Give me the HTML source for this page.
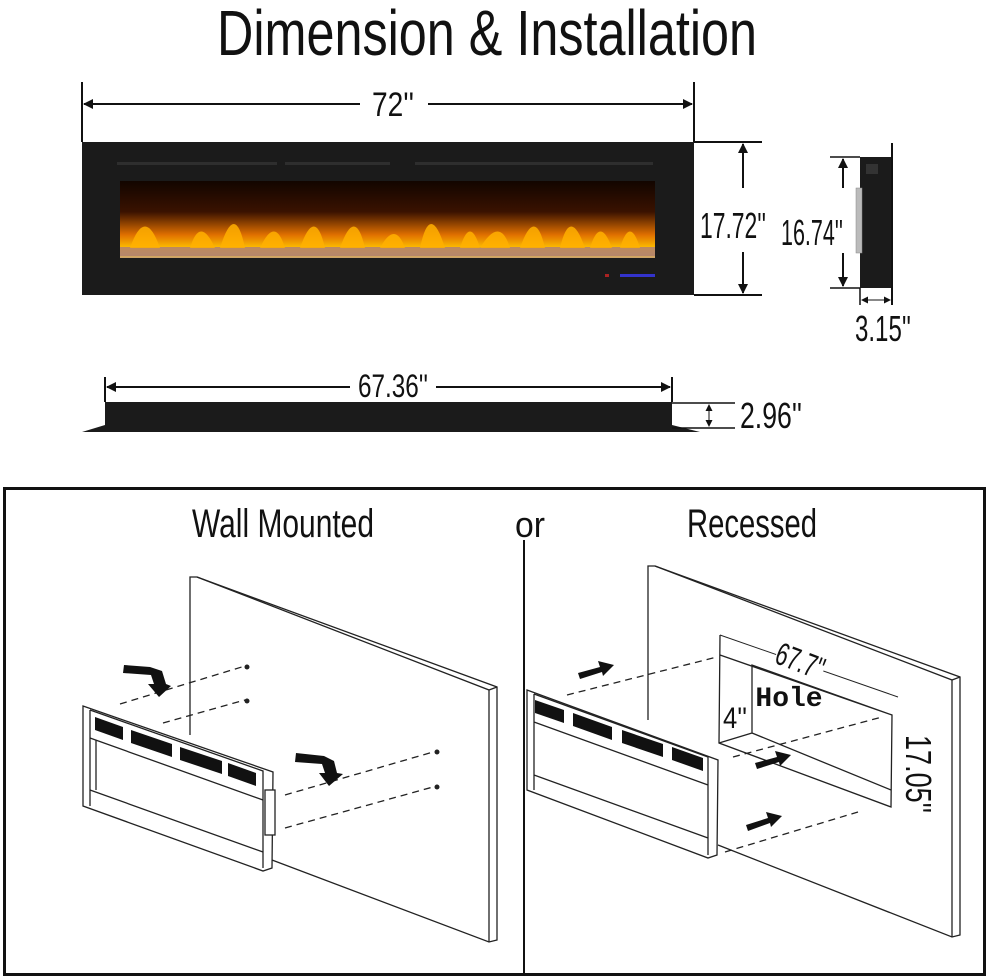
<!DOCTYPE html>
<html><head><meta charset="utf-8"><style>
html,body{margin:0;padding:0;background:#fff;}
svg{display:block;}
text{font-family:"Liberation Sans Narrow","Liberation Sans",sans-serif;fill:#111;}
</style></head><body>
<svg width="989" height="979" viewBox="0 0 989 979" xmlns="http://www.w3.org/2000/svg">
<defs>
<marker id="ah" markerWidth="10" markerHeight="10" refX="9" refY="5" orient="auto" markerUnits="userSpaceOnUse"><path d="M0,0 L10,5 L0,10 z" fill="#111"/></marker>
<marker id="as" markerWidth="7" markerHeight="7" refX="6" refY="3.5" orient="auto" markerUnits="userSpaceOnUse"><path d="M0,0 L7,3.5 L0,7 z" fill="#111"/></marker>
<linearGradient id="fl" x1="0" y1="0" x2="0" y2="1">
<stop offset="0" stop-color="#120500"/><stop offset="0.4" stop-color="#3a1200"/><stop offset="0.7" stop-color="#e07000"/><stop offset="0.88" stop-color="#ffc400"/><stop offset="1" stop-color="#c9a070"/></linearGradient>
</defs>
<text x="487" y="55" font-size="64" text-anchor="middle" textLength="540" lengthAdjust="spacingAndGlyphs">Dimension &amp; Installation</text>

<!-- top front view -->
<line x1="82" y1="82" x2="82" y2="142" stroke="#111" stroke-width="2"/>
<line x1="694" y1="82" x2="694" y2="142" stroke="#111" stroke-width="2"/>
<line x1="360" y1="104" x2="84" y2="104" stroke="#111" stroke-width="2" marker-end="url(#ah)"/>
<line x1="428" y1="104" x2="692" y2="104" stroke="#111" stroke-width="2" marker-end="url(#ah)"/>
<text x="393" y="116" font-size="34" text-anchor="middle" textLength="42" lengthAdjust="spacingAndGlyphs">72''</text>
<rect x="82" y="142" width="612" height="153" fill="#1b1b1b"/>
<rect x="120" y="181" width="535" height="77" fill="url(#fl)"/>
<rect x="120" y="247" width="535" height="9" fill="#b08070" opacity="0.85"/>
<path d="M130,248 Q145,205 160,248 M190,248 Q200,215 215,248 M220,248 Q235,200 245,248 M260,248 Q275,215 285,248 M300,248 Q315,205 325,248 M340,248 Q355,205 365,248 M380,248 Q395,220 405,248 M420,248 Q430,200 445,248 M460,248 Q470,215 480,248 M480,248 Q500,215 510,248 M520,248 Q535,205 545,248 M560,248 Q570,205 585,248 M590,248 Q600,215 612,248 M620,248 Q630,215 640,248" fill="#ffb000" opacity="0.85"/>
<rect x="117" y="162" width="160" height="3" fill="#2e2e2e"/>
<rect x="285" y="162" width="105" height="3" fill="#2e2e2e"/>
<rect x="415" y="162" width="238" height="3" fill="#2e2e2e"/>
<rect x="605" y="274" width="4" height="3" fill="#a22"/><rect x="620" y="274" width="35" height="3" fill="#33c"/>
<line x1="694" y1="142" x2="762" y2="142" stroke="#111" stroke-width="2"/>
<line x1="694" y1="295" x2="762" y2="295" stroke="#111" stroke-width="2"/>
<line x1="743" y1="188" x2="743" y2="144" stroke="#111" stroke-width="2" marker-end="url(#ah)"/>
<line x1="743" y1="252" x2="743" y2="293" stroke="#111" stroke-width="2" marker-end="url(#ah)"/>
<text x="733" y="238" font-size="36" text-anchor="middle" textLength="66" lengthAdjust="spacingAndGlyphs">17.72''</text>

<!-- side view -->
<rect x="860" y="157" width="32" height="131" fill="#1b1b1b"/>
<line x1="892" y1="143" x2="892" y2="305" stroke="#111" stroke-width="2"/>
<rect x="866" y="164" width="12" height="10" fill="#333"/>
<rect x="856" y="188" width="6" height="65" fill="#bbb" stroke="#888" stroke-width="0.5"/>
<line x1="830" y1="157" x2="860" y2="157" stroke="#111" stroke-width="1.5"/>
<line x1="830" y1="288" x2="860" y2="288" stroke="#111" stroke-width="1.5"/>
<line x1="843" y1="188" x2="843" y2="159" stroke="#111" stroke-width="2" marker-end="url(#ah)"/>
<line x1="843" y1="253" x2="843" y2="286" stroke="#111" stroke-width="2" marker-end="url(#ah)"/>
<text x="812" y="245" font-size="36" text-anchor="middle" textLength="62" lengthAdjust="spacingAndGlyphs">16.74''</text>
<line x1="860" y1="288" x2="860" y2="305" stroke="#111" stroke-width="1.5"/>
<line x1="876" y1="300" x2="862" y2="300" stroke="#111" stroke-width="1" marker-end="url(#as)"/>
<line x1="876" y1="300" x2="890" y2="300" stroke="#111" stroke-width="1" marker-end="url(#as)"/>
<text x="883" y="341" font-size="36" text-anchor="middle" textLength="56" lengthAdjust="spacingAndGlyphs">3.15''</text>

<!-- top plan view -->
<line x1="105" y1="377" x2="105" y2="402" stroke="#111" stroke-width="2"/>
<line x1="672" y1="377" x2="672" y2="402" stroke="#111" stroke-width="2"/>
<line x1="350" y1="387" x2="107" y2="387" stroke="#111" stroke-width="2" marker-end="url(#ah)"/>
<line x1="436" y1="387" x2="670" y2="387" stroke="#111" stroke-width="2" marker-end="url(#ah)"/>
<text x="393" y="397" font-size="32" text-anchor="middle" textLength="70" lengthAdjust="spacingAndGlyphs">67.36''</text>
<path d="M105,402 L672,402 L672,425 L700,432 L82,432 L105,425 Z" fill="#1b1b1b"/>
<line x1="672" y1="403" x2="735" y2="403" stroke="#111" stroke-width="1.5"/>
<line x1="672" y1="428" x2="735" y2="428" stroke="#111" stroke-width="1.5"/>
<line x1="709" y1="415" x2="709" y2="405" stroke="#111" stroke-width="1" marker-end="url(#as)"/>
<line x1="709" y1="415" x2="709" y2="426" stroke="#111" stroke-width="1" marker-end="url(#as)"/>
<text x="771" y="428" font-size="36" text-anchor="middle" textLength="62" lengthAdjust="spacingAndGlyphs">2.96''</text>

<!-- installation box -->
<rect x="4.5" y="488.5" width="980" height="486" fill="none" stroke="#111" stroke-width="3"/>
<line x1="524" y1="540" x2="524" y2="975" stroke="#111" stroke-width="2"/>
<text x="283" y="537" font-size="40" text-anchor="middle" textLength="182" lengthAdjust="spacingAndGlyphs">Wall Mounted</text>
<text x="530" y="537" font-size="36" text-anchor="middle" textLength="30" lengthAdjust="spacingAndGlyphs">or</text>
<text x="752" y="537" font-size="40" text-anchor="middle" textLength="130" lengthAdjust="spacingAndGlyphs">Recessed</text>

<g fill="none" stroke="#222" stroke-width="1.3">
<path d="M190,735 L190,577 L197,577 L497,687 L497,940 L489,942 L272,860"/>
<path d="M197,577 L489,690 L489,942 M489,690 L497,687"/>
<path d="M83,706 L273,772 L272,868 L263,871 L83,806 Z" fill="#fff"/>
<path d="M90,710 L263,771 L263,868 M90,710 L90,806"/>
<path d="M90,738 L263,800 M96,740 L96,790 M90,790 L263,852"/>
<rect x="265" y="790" width="10" height="45" fill="#fff"/>
<g stroke-dasharray="7,5">
<line x1="120" y1="704" x2="245" y2="666"/><line x1="163" y1="723" x2="245" y2="700"/>
<line x1="285" y1="795" x2="433" y2="752"/><line x1="285" y1="828" x2="433" y2="787"/>
</g>
<path d="M648,720 L648,566 L655,566 L960,677 L960,935 L952,937 L718,845"/>
<path d="M655,566 L952,680 L952,937 M952,680 L960,677"/>
<path d="M720,635 L719,743 L891,807 L892,715 L752,665 L752,733 L719,743 M720,655 L892,715 M752,733 L891,790"/>
<path d="M720,635 L898,697" stroke-width="1"/>
<path d="M527,690 L718,760 L717,855 L708,858 L527,790 Z" fill="#fff"/>
<path d="M534,694 L708,757 L708,855 M534,694 L534,790 M534,722 L708,785 M534,775 L708,838"/>
<g stroke-dasharray="7,5">
<line x1="567" y1="695" x2="717" y2="657"/><line x1="733" y1="757" x2="882" y2="717"/>
<line x1="725" y1="852" x2="858" y2="812"/>
</g>
</g>
<g fill="#111">
<polygon points="95,717 123,727 123,740 95,730"/><polygon points="131,730 172,744 172,757 131,743"/>
<polygon points="180,747 222,761 222,774 180,760"/><polygon points="228,763 256,773 256,786 228,776"/>
<polygon points="535,700 564,710 564,723 535,713"/><polygon points="573,713 612,727 612,740 573,726"/>
<polygon points="622,730 663,744 663,757 622,743"/><polygon points="672,747 703,758 703,771 672,760"/>
</g>
<g fill="#222"><circle cx="247" cy="667" r="2.5"/><circle cx="247" cy="701" r="2.5"/><circle cx="437" cy="752" r="2.5"/><circle cx="437" cy="787" r="2.5"/></g>
<g fill="#111">
<path d="M124,665 L150,667 L162,671 L166,684 L171,686 L159,697 L148,684 L154,684 L151,675 L123,673 Z"/>
<path d="M296,753 L324,756 L334,761 L337,773 L343,774 L329,786 L319,773 L325,773 L322,764 L295,762 Z"/>
<path d="M578,673 L600,667 L598,661 L614,665 L603,676 L602,672 L580,679 Z"/>
<path d="M755,763 L777,757 L775,751 L791,755 L780,766 L779,762 L757,769 Z"/>
<path d="M746,825 L768,818 L766,812 L782,816 L771,827 L770,823 L748,831 Z"/>
</g>
<text x="789" y="706" font-size="28" font-weight="bold" style="font-family:'Liberation Mono',monospace" text-anchor="middle">Hole</text>
<rect x="775" y="650" width="50" height="24" fill="#fff" transform="rotate(21 800 662)"/>
<text x="800" y="672" font-size="32" text-anchor="middle" textLength="50" lengthAdjust="spacingAndGlyphs" transform="rotate(21 800 662)">67.7''</text>
<text x="735" y="728" font-size="30" text-anchor="middle" textLength="24" lengthAdjust="spacingAndGlyphs">4''</text>
<text x="916" y="764" font-size="36" text-anchor="middle" textLength="78" lengthAdjust="spacingAndGlyphs" transform="rotate(90 906 764)">17.05''</text>
</svg>
</body></html>
